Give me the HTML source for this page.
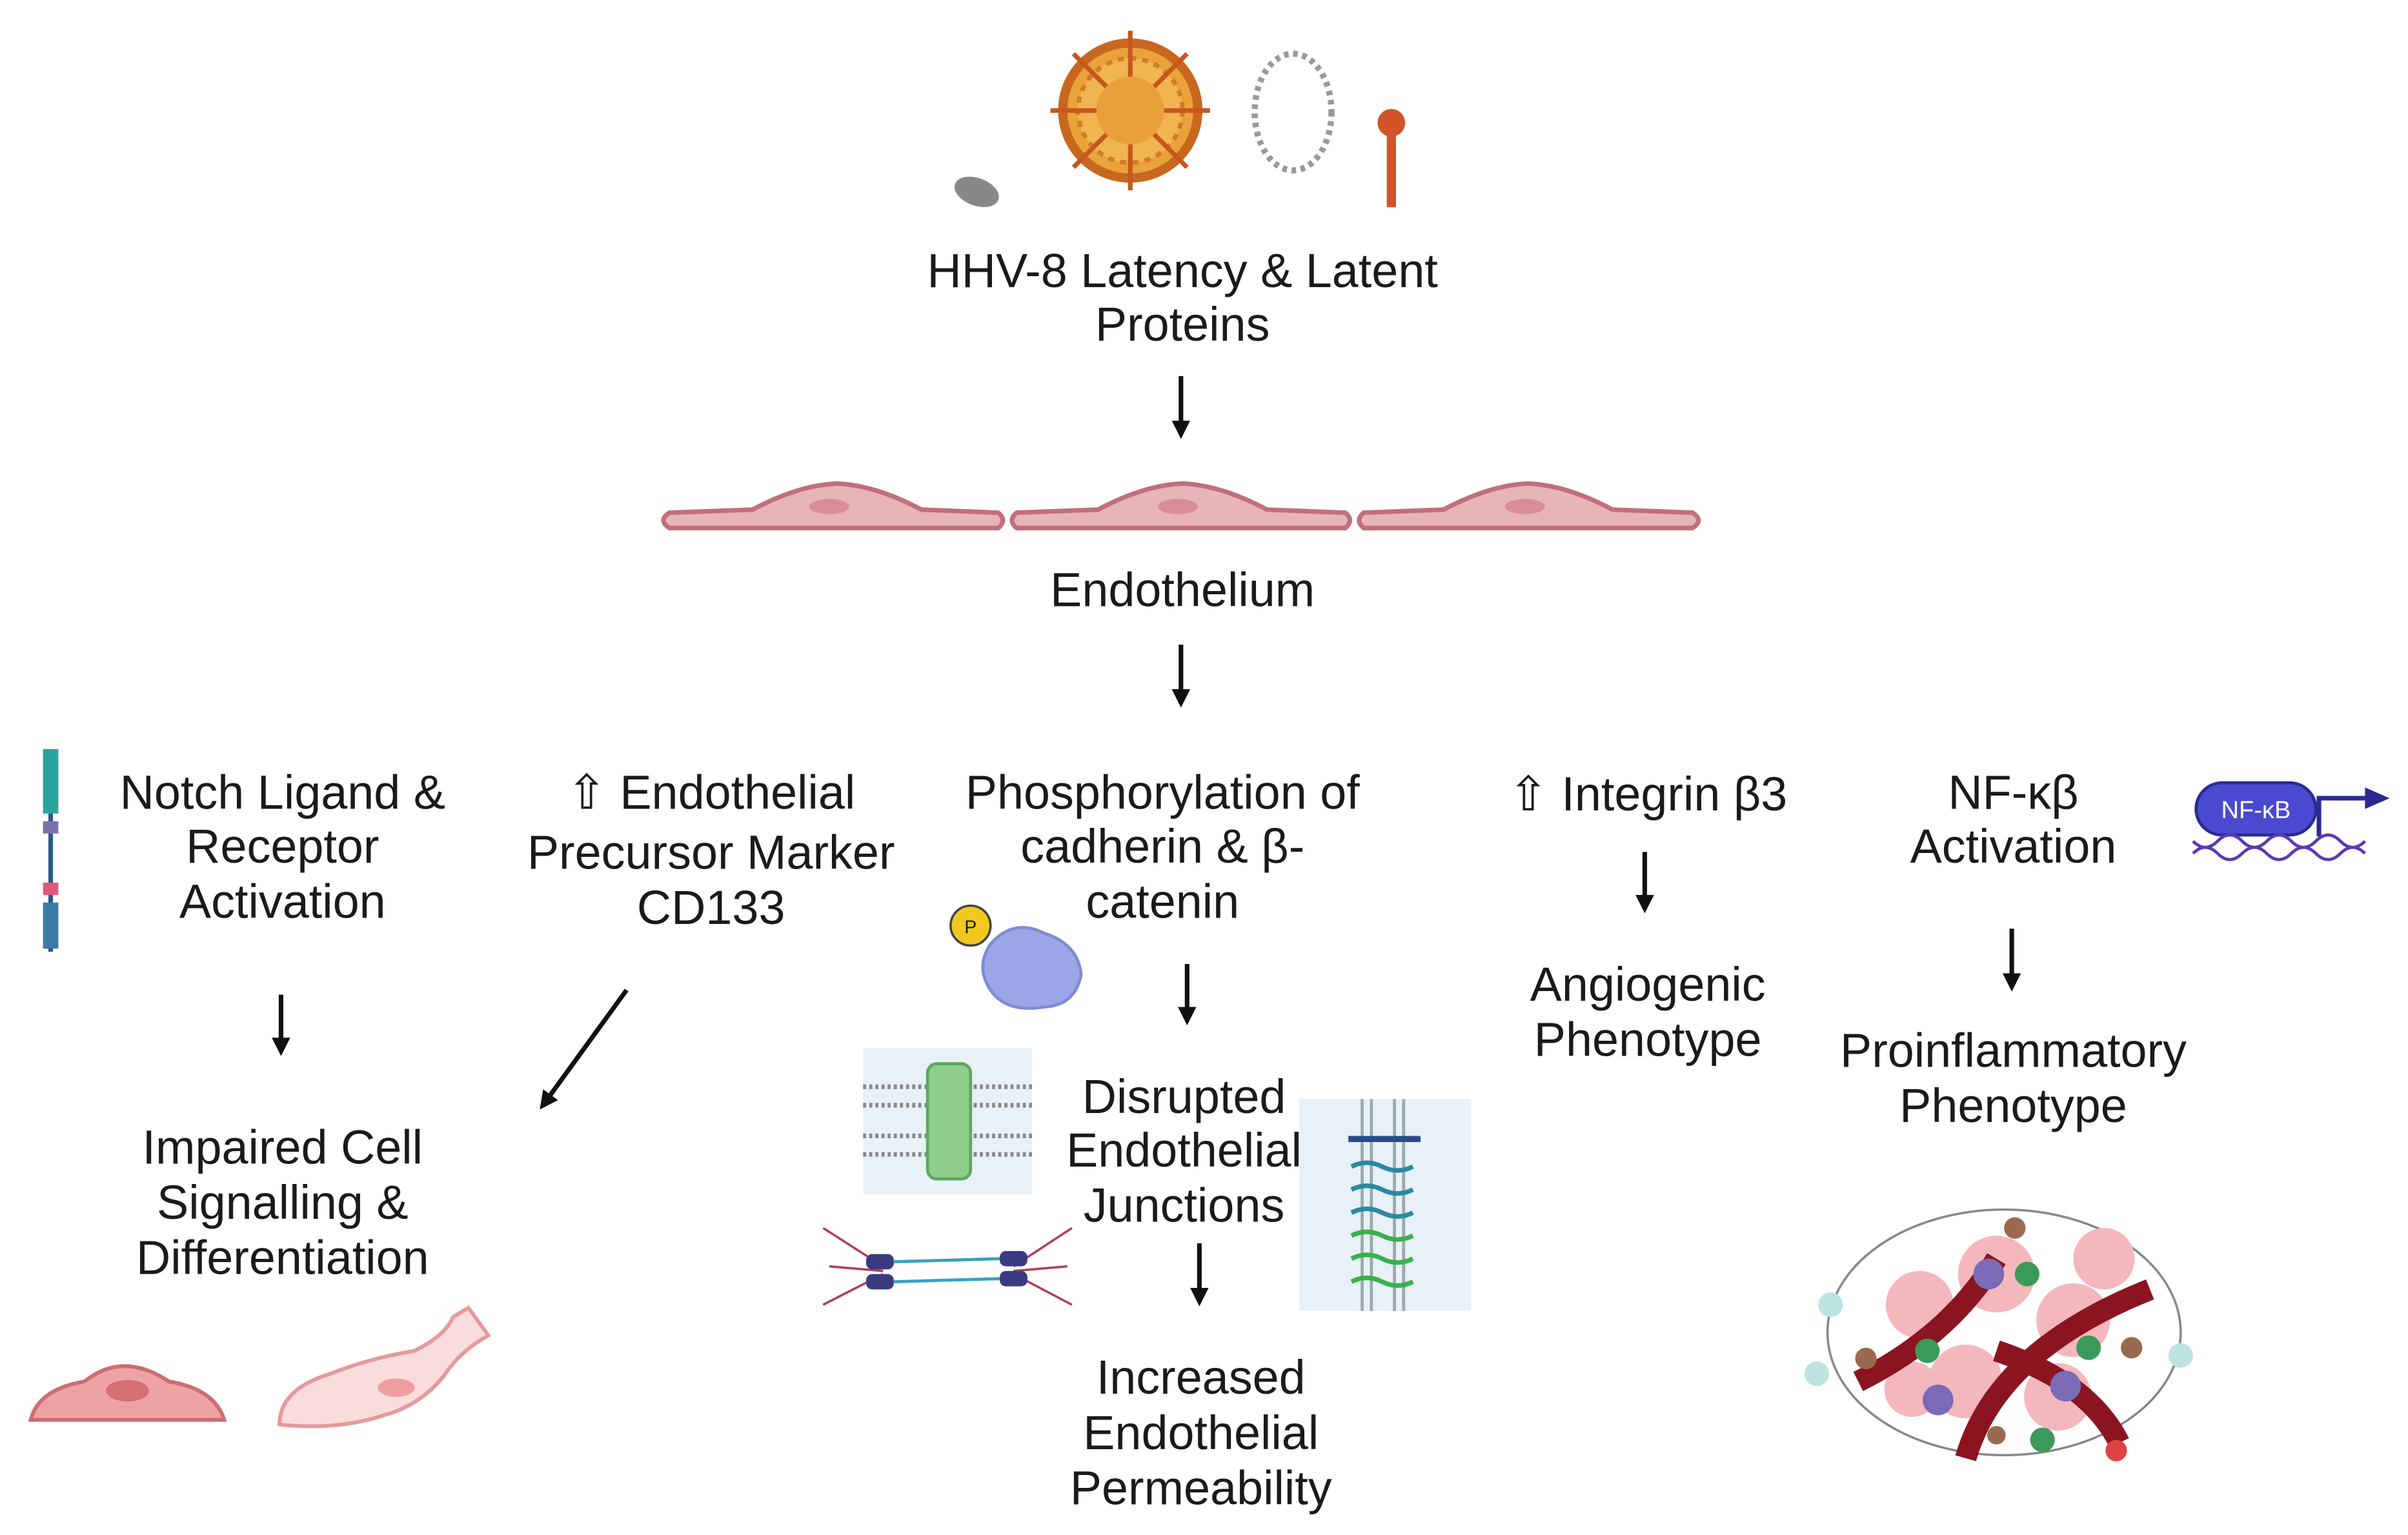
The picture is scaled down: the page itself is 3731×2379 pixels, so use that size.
<!DOCTYPE html>
<html><head><meta charset="utf-8"><style>
html,body{margin:0;padding:0;background:#fff;}
svg{display:block;}
text{font-family:"Liberation Sans",sans-serif;font-size:31px;fill:#1a1a1a;text-anchor:middle;}
</style></head><body>
<svg width="3731" height="2379" viewBox="0 0 1568 1000" preserveAspectRatio="none" xmlns="http://www.w3.org/2000/svg">
<defs>
<marker id="ah" markerWidth="12" markerHeight="12" refX="6" refY="6" orient="auto" markerUnits="userSpaceOnUse">
<path d="M0,0 L12,6 L0,12 z" fill="#111"/></marker>
</defs>
<rect width="1568" height="1000" fill="#fff"/>
<!-- top icons -->
<ellipse cx="636" cy="125" rx="15" ry="9" fill="#888" transform="rotate(20 636 125)"/>
<g>
<circle cx="736" cy="72" r="44" fill="#e9a33a" stroke="#c8671e" stroke-width="6"/>
<circle cx="736" cy="72" r="34" fill="#f0b550" stroke="#d27a28" stroke-width="3" stroke-dasharray="4 4"/>
<g stroke="#c8561e" stroke-width="3">
<line x1="736" y1="20" x2="736" y2="124"/><line x1="684" y1="72" x2="788" y2="72"/>
<line x1="699" y1="35" x2="773" y2="109"/><line x1="773" y1="35" x2="699" y2="109"/>
</g>
<circle cx="736" cy="72" r="22" fill="#e8a13a"/>
</g>
<ellipse cx="842" cy="73" rx="25" ry="38" fill="none" stroke="#999" stroke-width="4" stroke-dasharray="3 3"/>
<line x1="906" y1="85" x2="906" y2="135" stroke="#d2542a" stroke-width="6"/>
<circle cx="906" cy="80" r="9" fill="#d2542a"/>
<text x="770" y="187">HHV-8 Latency &amp; Latent</text>
<text x="770" y="222">Proteins</text>
<line x1="769" y1="245" x2="769" y2="280" stroke="#111" stroke-width="3" marker-end="url(#ah)"/>
<!-- endothelium -->
<g fill="#e7b4b8" stroke="#c0707a" stroke-width="3">
<path d="M436,334 L490,332 Q520,316 545,315 Q570,316 600,332 L650,334 Q656,339 650,344 L436,344 Q428,339 436,334z"/>
<path d="M662,334 L715,332 Q745,316 770,315 Q795,316 825,332 L876,334 Q882,339 876,344 L662,344 Q656,339 662,334z"/>
<path d="M888,334 L940,332 Q970,316 995,315 Q1020,316 1050,332 L1102,334 Q1110,339 1102,344 L888,344 Q882,339 888,334z"/>
</g>
<g fill="#d98e96"><ellipse cx="540" cy="330" rx="13" ry="5"/><ellipse cx="767" cy="330" rx="13" ry="5"/><ellipse cx="993" cy="330" rx="13" ry="5"/></g>
<text x="770" y="395">Endothelium</text>
<line x1="769" y1="420" x2="769" y2="455" stroke="#111" stroke-width="3" marker-end="url(#ah)"/>
<!-- notch column -->
<rect x="28" y="488" width="10" height="42" fill="#2aa3a0"/>
<line x1="33" y1="530" x2="33" y2="620" stroke="#2b5a8a" stroke-width="3"/>
<rect x="28" y="535" width="10" height="8" fill="#7c6fb0"/>
<rect x="28" y="575" width="10" height="8" fill="#e05a7a"/>
<rect x="28" y="588" width="10" height="30" fill="#3a7aa8"/>
<text x="184" y="527">Notch Ligand &amp;</text>
<text x="184" y="562">Receptor</text>
<text x="184" y="598">Activation</text>
<line x1="183" y1="648" x2="183" y2="682" stroke="#111" stroke-width="3" marker-end="url(#ah)"/>
<text x="184" y="758">Impaired Cell</text>
<text x="184" y="794">Signalling &amp;</text>
<text x="184" y="830">Differentiation</text>
<path d="M20,925 Q25,905 55,900 Q80,880 110,900 Q140,905 146,925z" fill="#eea3a3" stroke="#cc6d72" stroke-width="2.5"/>
<ellipse cx="83" cy="906" rx="14" ry="7" fill="#d56f74"/>
<path d="M182,928 Q182,905 215,895 Q240,885 270,880 Q290,870 295,858 L305,852 L318,870 Q300,880 290,895 Q275,915 250,922 Q220,932 182,928z" fill="#fbdcdc" stroke="#e59a9a" stroke-width="2.5"/>
<ellipse cx="258" cy="904" rx="12" ry="6" fill="#ef9e9e"/>
<!-- CD133 -->
<text x="463" y="527">⇧ Endothelial</text>
<text x="463" y="566">Precursor Marker</text>
<text x="463" y="602">CD133</text>
<line x1="408" y1="645" x2="355" y2="718" stroke="#111" stroke-width="3" marker-end="url(#ah)"/>
<!-- phosphorylation -->
<text x="757" y="527">Phosphorylation of</text>
<text x="757" y="562">cadherin &amp; β-</text>
<text x="757" y="598">catenin</text>
<circle cx="632" cy="603" r="13" fill="#f2c81e" stroke="#444" stroke-width="1.5"/>
<text x="632" y="608" style="font-size:12px">P</text>
<path d="M645,615 Q660,598 680,608 Q702,615 704,635 Q700,655 680,656 Q655,660 645,645 Q635,630 645,615z" fill="#9aa6e6" stroke="#7d8bd4" stroke-width="2"/>
<line x1="773" y1="628" x2="773" y2="662" stroke="#111" stroke-width="3" marker-end="url(#ah)"/>
<rect x="562" y="683" width="110" height="95" fill="#e8f0f8"/>
<g stroke="#888" stroke-width="3" stroke-dasharray="2 2"><line x1="562" y1="708" x2="672" y2="708"/><line x1="562" y1="720" x2="672" y2="720"/><line x1="562" y1="740" x2="672" y2="740"/><line x1="562" y1="752" x2="672" y2="752"/></g>
<rect x="604" y="693" width="28" height="75" rx="6" fill="#8fce8b" stroke="#5ea85c" stroke-width="2"/>
<g stroke="#b0405a" stroke-width="1.5"><line x1="536" y1="800" x2="575" y2="825"/><line x1="536" y1="850" x2="575" y2="830"/><line x1="540" y1="825" x2="575" y2="828"/><line x1="698" y1="800" x2="660" y2="825"/><line x1="698" y1="850" x2="660" y2="830"/><line x1="695" y1="825" x2="660" y2="828"/></g>
<g fill="#3a3a80"><rect x="564" y="817" width="18" height="10" rx="4"/><rect x="564" y="830" width="18" height="10" rx="4"/><rect x="651" y="815" width="18" height="10" rx="4"/><rect x="651" y="828" width="18" height="10" rx="4"/></g>
<g stroke="#3aa0c0" stroke-width="2"><line x1="582" y1="822" x2="651" y2="820"/><line x1="582" y1="835" x2="651" y2="833"/></g>
<text x="771" y="725">Disrupted</text>
<text x="771" y="760">Endothelial</text>
<text x="771" y="796">Junctions</text>
<rect x="846" y="716" width="112" height="138" fill="#e8f0f8"/>
<g stroke="#9aa" stroke-width="2"><line x1="887" y1="716" x2="887" y2="854"/><line x1="893" y1="716" x2="893" y2="854"/><line x1="908" y1="716" x2="908" y2="854"/><line x1="914" y1="716" x2="914" y2="854"/></g>
<path d="M880,760 q10,-5 20,0 q10,5 20,0 M880,775 q10,-5 20,0 q10,5 20,0 M880,790 q10,-5 20,0 q10,5 20,0" stroke="#2a8aa0" stroke-width="3" fill="none"/>
<path d="M880,805 q10,-5 20,0 q10,5 20,0 M880,820 q10,-5 20,0 q10,5 20,0 M880,835 q10,-5 20,0 q10,5 20,0" stroke="#3ab04a" stroke-width="3" fill="none"/>
<line x1="878" y1="742" x2="925" y2="742" stroke="#2a4a8a" stroke-width="4"/>
<line x1="781" y1="810" x2="781" y2="845" stroke="#111" stroke-width="3" marker-end="url(#ah)"/>
<text x="782" y="908">Increased</text>
<text x="782" y="944">Endothelial</text>
<text x="782" y="980">Permeability</text>
<!-- integrin -->
<text x="1073" y="528">⇧ Integrin β3</text>
<line x1="1071" y1="555" x2="1071" y2="589" stroke="#111" stroke-width="3" marker-end="url(#ah)"/>
<text x="1073" y="652">Angiogenic</text>
<text x="1073" y="688">Phenotype</text>
<!-- NF-kB -->
<text x="1311" y="527">NF-κβ</text>
<text x="1311" y="562">Activation</text>
<rect x="1430" y="510" width="78" height="34" rx="17" fill="#4a4ad0" stroke="#2a2a90" stroke-width="2"/>
<text x="1469" y="533" style="font-size:16px;fill:#fff">NF-κB</text>
<path d="M1510,545 L1510,520 L1545,520" stroke="#2a2a90" stroke-width="3" fill="none"/>
<path d="M1540,513 L1556,520 L1540,527z" fill="#2a2a90"/>
<path d="M1428,548 q8,8 16,0 q8,-8 16,0 q8,8 16,0 q8,-8 16,0 q8,8 16,0 q8,-8 16,0 q8,8 16,0 M1428,556 q8,-8 16,0 q8,8 16,0 q8,-8 16,0 q8,8 16,0 q8,-8 16,0 q8,8 16,0 q8,-8 16,0" stroke="#5a3ab0" stroke-width="2" fill="none"/>
<line x1="1310" y1="605" x2="1310" y2="640" stroke="#111" stroke-width="3" marker-end="url(#ah)"/>
<text x="1311" y="695">Proinflammatory</text>
<text x="1311" y="731">Phenotype</text>
<!-- tumor -->
<ellipse cx="1305" cy="868" rx="115" ry="80" fill="none" stroke="#888" stroke-width="1.5"/>
<g fill="#f4b7bd"><circle cx="1250" cy="850" r="22"/><circle cx="1300" cy="830" r="25"/><circle cx="1350" cy="860" r="24"/><circle cx="1280" cy="900" r="24"/><circle cx="1340" cy="910" r="22"/><circle cx="1245" cy="905" r="18"/><circle cx="1370" cy="820" r="20"/></g>
<path d="M1210,900 Q1270,870 1300,820 M1280,950 Q1300,880 1400,840 M1300,880 Q1360,900 1380,940" stroke="#8a1520" stroke-width="14" fill="none"/>
<g fill="#3a9a5a"><circle cx="1320" cy="830" r="8"/><circle cx="1360" cy="878" r="8"/><circle cx="1255" cy="880" r="8"/><circle cx="1330" cy="938" r="8"/></g>
<g fill="#7a6ab8"><circle cx="1295" cy="830" r="10"/><circle cx="1262" cy="912" r="10"/><circle cx="1345" cy="903" r="10"/></g>
<g fill="#9a6a50"><circle cx="1312" cy="800" r="7"/><circle cx="1215" cy="885" r="7"/><circle cx="1388" cy="878" r="7"/><circle cx="1300" cy="935" r="6"/></g>
<g fill="#bde3e0"><circle cx="1192" cy="850" r="8"/><circle cx="1183" cy="895" r="8"/><circle cx="1420" cy="883" r="8"/></g>
<circle cx="1378" cy="945" r="7" fill="#d44"/>
</svg>
</body></html>
